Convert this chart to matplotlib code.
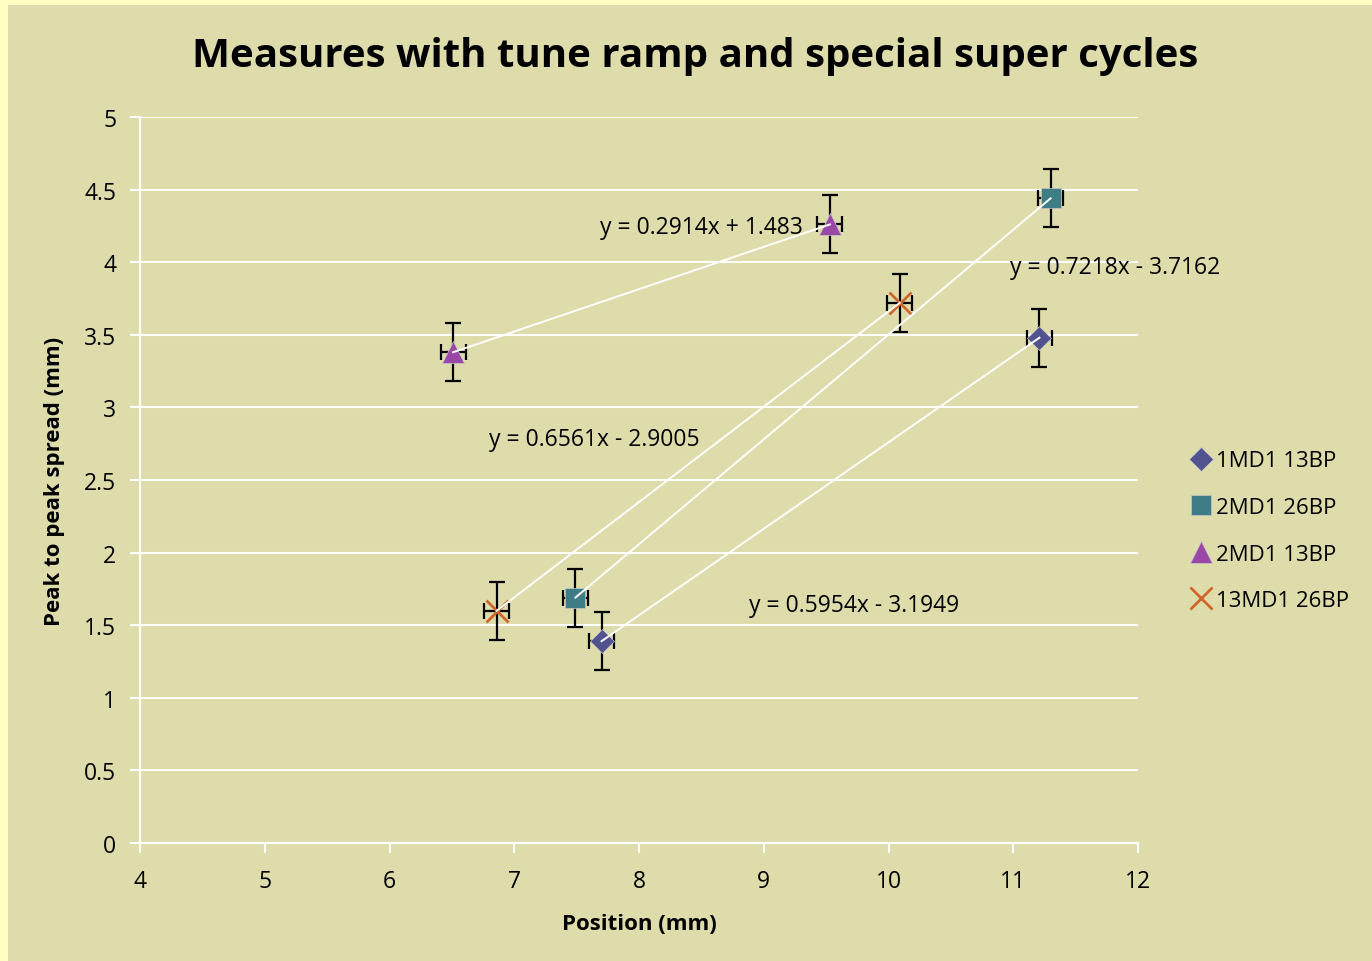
import numpy as np
import matplotlib.pyplot as plt

plt.rcParams['font.family'] = ['Open Sans', 'DejaVu Sans']

# data
series_names = ['1MD1 13BP', '2MD1 26BP', '2MD1 13BP', '13MD1 26BP']
pos_1md1_13 = [7.70, 11.21]
spread_1md1_13 = [1.39, 3.48]
pos_2md1_26 = [7.49, 11.30]
spread_2md1_26 = [1.69, 4.44]
pos_2md1_13 = [6.51, 9.53]
spread_2md1_13 = [3.38, 4.26]
pos_13md1_26 = [6.86, 10.09]
spread_13md1_26 = [1.60, 3.72]
x_err = 0.1
y_err = 0.2

equations = ['y = 0.5954x - 3.1949', 'y = 0.7218x - 3.7162',
             'y = 0.2914x + 1.483', 'y = 0.6561x - 2.9005']
eq_pos = [(9.72, 1.64), (11.82, 3.97), (8.50, 4.24), (7.64, 2.78)]

markers = ['D', 's', '^', 'x']
colors = ['#52528f', '#3e7c86', '#9a48a8', '#d0662a']
sizes = [12, 15, 16, 16]

xs = [pos_1md1_13, pos_2md1_26, pos_2md1_13, pos_13md1_26]
ys = [spread_1md1_13, spread_2md1_26, spread_2md1_13, spread_13md1_26]

bg = '#dedcaa'
fig = plt.figure(figsize=(13.72, 9.62), dpi=100, facecolor='#ffffc4')
fig.patches.append(plt.Rectangle((8 / 1372, 0), 1 - 8 / 1372, 1 - 6 / 962,
                                 transform=fig.transFigure, facecolor=bg,
                                 edgecolor='none', zorder=-1))
ax = fig.add_axes([140 / 1372, 1 - 844 / 962, 998 / 1372, 726 / 962])
ax.set_facecolor(bg)

for i in range(4):
    x = np.array(xs[i])
    y = np.array(ys[i])
    k, b = np.polyfit(x, y, 1)
    xl = np.array([x.min(), x.max()])
    ax.plot(xl, k * xl + b, color='white', lw=1.4, zorder=4)
    ax.errorbar(x, y, xerr=x_err, yerr=y_err, fmt='none', ecolor='black',
                elinewidth=1.6, capsize=6, capthick=1.6, zorder=2)
    mew = 2 if markers[i] == 'x' else 0.5
    ax.plot(x, y, linestyle='none', marker=markers[i], ms=sizes[i],
            color=colors[i], mec=colors[i] if markers[i] == 'x' else '#c8c8c8',
            mew=mew, zorder=3, label=series_names[i])
    ax.text(eq_pos[i][0], eq_pos[i][1], equations[i], fontsize=16.5,
            ha='center', va='center', clip_on=False)

ax.set_xlim(4, 12)
ax.set_ylim(0, 5)
ax.set_xticks(np.arange(4, 13, 1))
ax.set_yticks(np.arange(0, 5.01, 0.5))
ax.set_yticklabels(['0', '0.5', '1', '1.5', '2', '2.5', '3', '3.5', '4', '4.5', '5'])
ax.grid(axis='y', color='white', lw=1.5)
ax.set_axisbelow(True)
for s in ['top', 'right']:
    ax.spines[s].set_visible(False)
for s in ['left', 'bottom']:
    ax.spines[s].set_color('white')
    ax.spines[s].set_linewidth(1.5)
ax.tick_params(colors='white', labelcolor='black', labelsize=16.5, width=1.5,
               length=7)
ax.tick_params(axis='y', pad=10)
ax.tick_params(axis='x', pad=12)

ax.set_xlabel('Position (mm)', fontsize=16, fontweight='bold', labelpad=14)
ax.set_ylabel('Peak to peak spread (mm)', fontsize=16, fontweight='bold', labelpad=14)
fig.text(0.507, 1 - 57 / 962, 'Measures with tune ramp and special super cycles',
         fontsize=29, fontweight='bold', ha='center', va='center')

ax.legend(loc='center left', bbox_to_anchor=(1.03, 0.43), frameon=False,
          fontsize=16, handletextpad=0.05, labelspacing=1.15, handlelength=1.2,
          markerscale=1.0)

fig.savefig('out.png', dpi=100, facecolor=fig.get_facecolor())
